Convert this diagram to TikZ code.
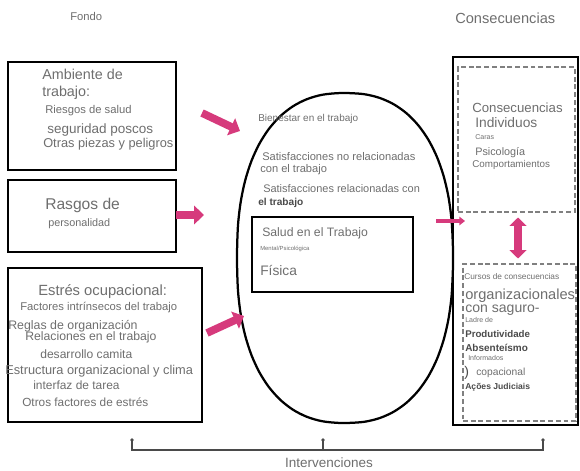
\documentclass[tikz,border=0pt]{standalone}
\usepackage{fontspec}
\setmainfont{Liberation Sans}
\usetikzlibrary{arrows.meta,fit,positioning}

\definecolor{txtgray}{HTML}{6E6E6E}
\definecolor{darkgray}{HTML}{4A4A4A}
\definecolor{arrowpink}{HTML}{D63A7C}
\definecolor{dashgray}{HTML}{808080}

\tikzset{
  box/.style={draw=black, line width=2pt, inner sep=0pt},
  dbox/.style={draw=dashgray, line width=1pt, dash pattern=on 3.5pt off 2pt, inner sep=0pt},
  lbl/.style={anchor=west, inner sep=0pt, text=txtgray, font=\fontsize{#1}{#1}\selectfont},
  blbl/.style={anchor=west, inner sep=0pt, text=darkgray, font=\bfseries\fontsize{#1}{#1}\selectfont},
  pinkarrow/.style={draw=arrowpink, line width=5.5pt, -{Triangle[length=7pt,width=13pt]}},
}

\begin{document}
\begin{tikzpicture}[x=0.25mm, y=-0.25mm]
	\useasboundingbox (0,0) rectangle (580,470);
	
	\node[lbl=8] (fondo) at (70,16) {Fondo};
	\node[lbl=10.4] (conshead) at (455,18) {Consecuencias};
	
	% izquierda
	\node[box, fit={(8,62) (176,170)}] (ambbox) {};
	\node[lbl=10.2] (amb1) at (42,74) {Ambiente de};
	\node[lbl=10.2] (amb2) at (42,93) {trabajo:};
	\node[lbl=8] (amb3) at (45,111) {Riesgos de salud};
	\node[lbl=9.6] (amb4) at (47,130) {seguridad poscos};
	\node[lbl=9.1] (amb5) at (43,144) {Otras piezas y peligros};
	
	\node[box, fit={(8,180) (176,252)}] (rasbox) {};
	\node[lbl=11.1] (ras1) at (45,205) {Rasgos de};
	\node[lbl=7.7] (ras2) at (48,224) {personalidad};
	
	\node[box, fit={(8,268) (202,422)}] (estbox) {};
	\node[lbl=10.5] (est1) at (38,292) {Estrés ocupacional:};
	\node[lbl=8] (est2) at (20,308) {Factores intrínsecos del trabajo};
	\node[lbl=8.8] (est3) at (8,326) {Reglas de organización};
	\node[lbl=8.7] (est4) at (25,337) {Relaciones en el trabajo};
	\node[lbl=8.6] (est5) at (40,354) {desarrollo camita};
	\node[lbl=9.1] (est6) at (5,371) {Estructura organizacional y clima};
	\node[lbl=8.5] (est7) at (33,385) {interfaz de tarea};
	\node[lbl=8.4] (est8) at (22,402) {Otros factores de estrés};
	
	% centro
	\draw[line width=1.6pt] plot[smooth cycle, domain=2:358, samples=45, variable=\a]
		({345+108*sign(cos(\a))*abs(cos(\a))^0.85}, {258+165*sign(sin(\a))*abs(sin(\a))^0.85});
	\node[lbl=7.1] (bien) at (258,119) {Bienestar en el trabajo};
	\node[lbl=7.9] (sat1) at (262,157) {Satisfacciones no relacionadas};
	\node[lbl=7.9] (sat2) at (260,170) {con el trabajo};
	\node[lbl=7.8] (sat3) at (263,189) {Satisfacciones relacionadas con};
	\node[blbl=7.2] (sat4) at (258,203) {el trabajo};
	
	\node[box, fit={(252,217) (413,292)}] (salbox) {};
	\node[lbl=8.7] (sal1) at (262,233) {Salud en el Trabajo};
	\node[lbl=4.2] (sal2) at (260,249) {Mental/Psicológica};
	\node[lbl=9.8] (sal3) at (260,270) {Física};
	
	% derecha
	\node[box, fit={(453,57) (578,425)}] (consbox) {};
	\node[dbox, fit={(458,67) (575,212)}] (indbox) {};
	\node[lbl=9.4] (ind1) at (472,108) {Consecuencias};
	\node[lbl=9.8] (ind2) at (475,123) {Individuos};
	\node[lbl=5] (ind3) at (475,137) {Caras};
	\node[lbl=7.7] (ind4) at (475,153) {Psicología};
	\node[lbl=7] (ind5) at (472,165) {Comportamientos};
	
	\node[dbox, fit={(463,264) (576,421)}] (orgbox) {};
	\node[lbl=5.9] (org1) at (464,277) {Cursos de consecuencias};
	\node[lbl=10.4] (org2) at (465,296) {organizacionales};
	\node[lbl=10] (org3) at (465,310) {con saguro-};
	\node[lbl=5] (org4) at (465,320) {Ladre de};
	\node[blbl=6.9] (org5) at (465,334) {Produtividade};
	\node[blbl=7.1] (org6) at (465,348) {Absenteísmo};
	\node[lbl=5] (org7) at (468,358) {Informados};
	\node[lbl=10, text=darkgray] (org8) at (464,373) {)};
	\node[lbl=7.3] (org9) at (476,373) {copacional};
	\node[blbl=6.1] (org10) at (465,387) {Ações Judiciais};
	
	% flechas
	\coordinate (a1s) at (202,113);
	\coordinate (a1e) at (240,131);
	\coordinate (a2s) at (176,215);
	\coordinate (a2e) at (204,215);
	\coordinate (a3s) at (207,333);
	\coordinate (a3e) at (244,316);
	\draw[pinkarrow] (a1s) -- (a1e);
	\draw[pinkarrow] (a2s) -- (a2e);
	\draw[pinkarrow] (a3s) -- (a3e);
	
	\coordinate (sas) at (436,221);
	\coordinate (sae) at (465,221);
	\draw[draw=arrowpink, line width=2.2pt, -{Triangle[length=4pt,width=6pt]}] (sas) -- (sae);
	\draw[draw=arrowpink, line width=5pt, {Triangle[length=6pt,width=12pt]}-{Triangle[length=6pt,width=12pt]}]
		([yshift=-1.2mm]indbox.south -| 518,0) -- ([yshift=1.2mm]orgbox.north -| 518,0);
	
	% intervenciones
	\coordinate (t1) at (132,440);
	\coordinate (t2) at (323,440);
	\coordinate (t3) at (543,440);
	\draw[darkgray, line width=1.1pt] (t1) -- (132,450) -- (543,450) -- (t3);
	\draw[darkgray, line width=1.1pt] (t2) -- (323,450);
	\foreach \t in {t1,t2,t3}
		\fill[darkgray] (\t) circle (1.4pt);
	\node[lbl=9.6, anchor=center] (interv) at (329,463) {Intervenciones};
\end{tikzpicture}
\end{document}
